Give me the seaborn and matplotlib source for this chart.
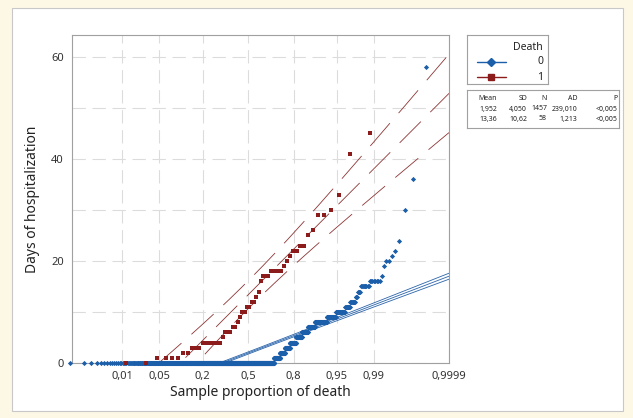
import numpy as np
import pandas as pd
import matplotlib
matplotlib.use('Agg')
import matplotlib.pyplot as plt
import seaborn as sns
from matplotlib.patches import Rectangle
from statistics import NormalDist

# data
red_days = [0, 0, 1, 1, 1, 1, 2, 2, 3, 3, 3, 4, 4, 4, 4, 4, 4, 4, 5, 6, 6, 6, 7, 7, 8, 9,
            10, 10, 11, 11, 12, 12, 13, 14, 16, 17, 17, 17, 18, 18, 18, 18, 18, 19, 20,
            21, 22, 22, 23, 23, 25, 26, 29, 29, 30, 33, 41, 45]
blue_values = [0, 1, 2, 3, 4, 5, 6, 7, 8, 9, 10, 11, 12, 13, 14, 15, 16, 17, 19, 20, 21, 22, 24, 30, 36, 58]
blue_counts = [997, 55, 44, 41, 46, 41, 37, 38, 52, 30, 23, 10, 9, 3, 4, 9, 8, 1, 1, 2, 1, 1, 1, 1, 1, 1]

groups = [0, 1]
means = [1.952, 13.36]
sds = [4.050, 10.62]
ns = [1457, 58]
ads = ['239,010', '1,213']
pvals = ['<0,005', '<0,005']
mean_txt = ['1,952', '13,36']
sd_txt = ['4,050', '10,62']

tick_probs = [0.01, 0.05, 0.2, 0.5, 0.8, 0.95, 0.99, 0.9999]
tick_labels = ['0,01', '0,05', '0,2', '0,5', '0,8', '0,95', '0,99', '0,9999']

blue = '#1b5eaa'
red = '#8c1c1c'
pal = {0: '#2a64aa', 1: '#8e3434'}

nd = NormalDist()

# points on the probability scale (median ranks)
blue_days = np.repeat(blue_values, blue_counts)
rows = []
for g, d in [(0, np.sort(blue_days)), (1, np.sort(red_days))]:
    n = len(d)
    for i, v in enumerate(d, start=1):
        rows.append({'Death': g, 'z': nd.inv_cdf((i - 0.3) / (n + 0.4)), 'days': v})
pts = pd.DataFrame(rows)

# fitted line + 95% CI
xmin, xmax = -3.26, nd.inv_cdf(0.9999)
zz = np.linspace(xmin, xmax, 200)
lines = []
for g, m, s, n in zip(groups, means, sds, ns):
    se = 1.96 * s * np.sqrt(1 / n + zz ** 2 / (2 * n))
    fit = m + s * zz
    for name, y in [('lo', fit - se), ('fit', fit), ('hi', fit + se)]:
        lines.append(pd.DataFrame({'Death': g, 'curve': f'{g}{name}', 'z': zz, 'days': y}))
lines = pd.concat(lines, ignore_index=True)

sns.set_style('white')
plt.rcParams['font.family'] = ['Noto Sans', 'DejaVu Sans']

W, H = 633, 418
fig = plt.figure(figsize=(W / 100, H / 100), dpi=100, facecolor='#fdf8e6')


def box(x0, y0, x1, y1):
    return [x0 / W, 1 - y1 / H, (x1 - x0) / W, (y1 - y0) / H]


panel = Rectangle((12 / W, 1 - 411 / H), 611 / W, 403 / H, transform=fig.transFigure,
                  facecolor='white', edgecolor='#c8c8c8', lw=0.8, zorder=-5)
fig.add_artist(panel)

ax = fig.add_axes(box(72, 35, 449, 363))
ax.set_facecolor('white')

sns.lineplot(data=lines, x='z', y='days', hue='Death', units='curve', estimator=None,
             style='Death', dashes={0: '', 1: (36, 16)}, palette=pal, lw=0.6,
             legend=False, ax=ax)
sns.scatterplot(data=pts[pts['Death'] == 0], x='z', y='days', color=blue, marker='D',
                s=7, linewidth=0, ax=ax, clip_on=False, zorder=3)
sns.scatterplot(data=pts[pts['Death'] == 1], x='z', y='days', color=red, marker='s',
                s=8, linewidth=0, ax=ax, clip_on=False, zorder=4)

ax.set_xlim(xmin, xmax)
ax.set_ylim(0, 64.3)
ax.set_xticks([nd.inv_cdf(p) for p in tick_probs])
ax.set_xticklabels(tick_labels)
ax.set_yticks([0, 20, 40, 60])
ax.set_yticks([10, 30, 50], minor=True)
ax.grid(True, which='both', color='#dcdcdc', lw=0.8, ls=(0, (12, 6)))
ax.tick_params(which='major', length=4, color='#9a9a9a', labelsize=8, labelcolor='#333333', pad=2)
ax.tick_params(which='minor', length=0)
for sp in ax.spines.values():
    sp.set_color('#a0a0a0')
    sp.set_linewidth(0.8)
ax.set_xlabel('Sample proportion of death', fontsize=10, color='#222222', labelpad=2)
ax.set_ylabel('Days of hospitalization', fontsize=10, color='#222222', labelpad=8)

# legend box
lg = fig.add_axes(box(467, 35, 548, 84))
lg.set_xlim(467, 548)
lg.set_ylim(84, 35)
lg.set_xticks([])
lg.set_yticks([])
for sp in lg.spines.values():
    sp.set_color('#a0a0a0')
    sp.set_linewidth(0.8)
lg.text(543, 47, 'Death', ha='right', va='center', fontsize=7.5, color='#222222')
for yy, c, mk, lab in [(62, blue, 'D', '0'), (77, red, 's', '1')]:
    lg.plot([477, 506], [yy, yy], color=c, lw=1)
    lg.plot([491], [yy], color=c, marker=mk, ms=5 if mk == 's' else 4.5, mec=c)
    lg.text(543, yy, lab, ha='right', va='center', fontsize=7.5, color='#222222')

# statistics table
tb = fig.add_axes(box(467, 90, 619, 128))
tb.set_xlim(467, 619)
tb.set_ylim(128, 90)
tb.set_xticks([])
tb.set_yticks([])
for sp in tb.spines.values():
    sp.set_color('#a0a0a0')
    sp.set_linewidth(0.8)
cols_x = [497, 527, 547, 577, 617]
for x, h in zip(cols_x, ['Mean', 'SD', 'N', 'AD', 'P']):
    tb.text(x, 99, h, ha='right', va='center', fontsize=5, color='#222222')
for k in range(2):
    y = 109 + 10 * k
    vals = [mean_txt[k], sd_txt[k], str(ns[k]), ads[k], pvals[k]]
    for x, v in zip(cols_x, vals):
        tb.text(x, y, v, ha='right', va='center', fontsize=5, color='#222222')

fig.savefig('out.png', dpi=100, facecolor=fig.get_facecolor())
